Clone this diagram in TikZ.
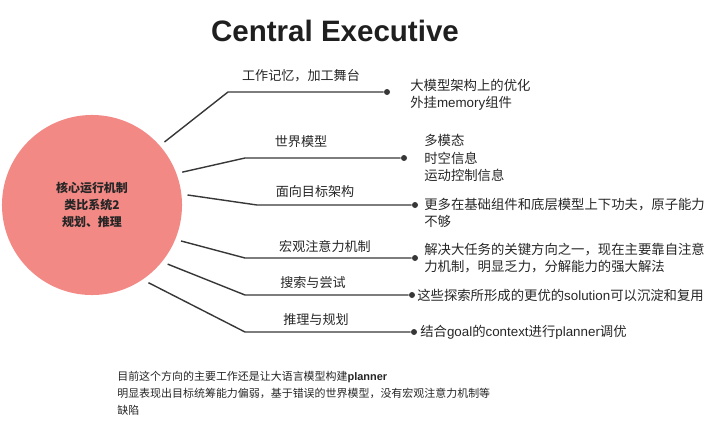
\documentclass[tikz,border=0pt]{standalone}
\usepackage{fontspec}
\setmainfont{Noto Sans CJK SC}
\newfontfamily\titlefont{Liberation Sans}
\newcommand{\lat}[1]{{\titlefont #1}}
\definecolor{rosa}{RGB}{243,137,133}
\definecolor{linea}{RGB}{55,55,55}

\begin{document}
\begin{tikzpicture}[x=0.025cm,y=-0.025cm,
    ramo/.style={draw=linea, line width=1pt},
    punto/.style={circle, fill=linea, inner sep=0pt, minimum size=0.15cm},
    etichetta/.style={font=\fontsize{9.3}{11}\selectfont, text=black!85},
    nota/.style={anchor=west, inner sep=0pt, align=left, font=\fontsize{9.5}{12}\selectfont, text=black!85}]
    \useasboundingbox (0,0) rectangle (720,433);

    % Titolo
    \node [font=\titlefont\bfseries\fontsize{21}{25}\selectfont, text=black!88] (titolo) at (335,31) {Central Executive};

    % Cerchio centrale
    \node [circle, fill=rosa, minimum size=4.5cm, outer sep=0.15cm, align=center,
           font=\bfseries\fontsize{8.5}{12}\selectfont, text=black!85] (c) at (92,205) {核心运行机制\\类比系统2\\规划、推理};

    % Gomiti e punti finali
    \coordinate (k1) at (228,92);  \node [punto] (e1) at (387,92) {};
    \coordinate (k2) at (245,158); \node [punto] (e2) at (404,158) {};
    \coordinate (k3) at (257,205); \node [punto] (e3) at (415,205) {};
    \coordinate (k4) at (245,258); \node [punto] (e4) at (415,258) {};
    \coordinate (k5) at (245,295); \node [punto] (e5) at (412,295) {};
    \coordinate (k6) at (245,332); \node [punto] (e6) at (414,332) {};

    % Rami
    \draw [ramo] (c.41) -- (k1) -- (e1);
    \draw [ramo] (c.20) -- (k2) -- (e2);
    \draw [ramo] (c.6) -- (k3) -- (e3);
    \draw [ramo] (c.-22) -- (k4) -- (e4);
    \draw [ramo] (c.-38) -- (k5) -- (e5);
    \draw [ramo] (c.-54) -- (k6) -- (e6);

    % Etichette sui rami
    \node [etichetta] (t1) at (301,76) {工作记忆，加工舞台};
    \node [etichetta] (t2) at (301,142) {世界模型};
    \node [etichetta] (t3) at (315,192) {面向目标架构};
    \node [etichetta] (t4) at (325,246) {宏观注意力机制};
    \node [etichetta] (t5) at (313,283) {搜索与尝试};
    \node [etichetta] (t6) at (316,320) {推理与规划};

    % Note a destra
    \node [nota] (d1) at (410,95) {大模型架构上的优化\\外挂\lat{memory}组件};
    \node [nota, font=\fontsize{9.5}{12.4}\selectfont] (d2) at (424,158) {多模态\\时空信息\\运动控制信息};
    \node [nota] (d3) at (424,213) {更多在基础组件和底层模型上下功夫，原子能力\\不够};
    \node [nota] (d4) at (424,258) {解决大任务的关键方向之一，现在主要靠自注意\\力机制，明显乏力，分解能力的强大解法};
    \node [nota] (d5) at (417,295) {这些探索所形成的更优的\lat{solution}可以沉淀和复用};
    \node [nota] (d6) at (420,332) {结合\lat{goal}的\lat{context}进行\lat{planner}调优};

    % Nota in basso
    \node [anchor=north west, inner sep=0pt, align=left, font=\fontsize{7.8}{12}\selectfont, text=black!85] (nb) at (117,371)
        {目前这个方向的主要工作还是让大语言模型构建\lat{\bfseries planner}\\明显表现出目标统筹能力偏弱，基于错误的世界模型，没有宏观注意力机制等\\缺陷};
\end{tikzpicture}
\end{document}
